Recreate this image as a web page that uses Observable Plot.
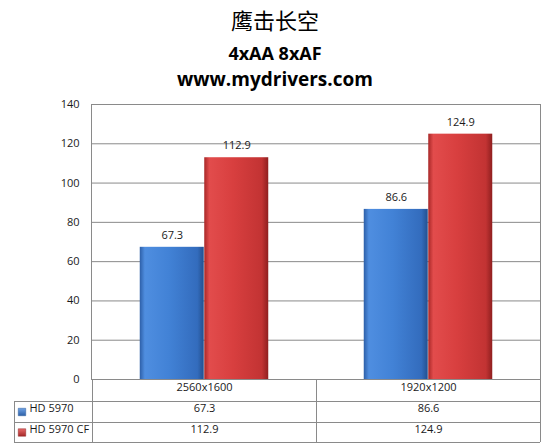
<!DOCTYPE html>
<html><head><meta charset="utf-8">
<script src="https://cdn.jsdelivr.net/npm/d3@7"></script>
<script src="https://cdn.jsdelivr.net/npm/@observablehq/plot@0.6"></script>
<style>
body{margin:0;background:#fff;}
#wrap{position:relative;width:550px;height:446px;overflow:hidden;background:#fff;}
#head{position:relative;height:94px;}
.t{position:absolute;left:0;width:550px;text-align:center;line-height:1;color:#000;white-space:nowrap;}
#chart svg{display:block;}
</style></head><body>
<div id="wrap">
<div id="head">
<div class="t" id="t1" style="top:8px;font-family:'Noto Sans CJK SC';font-size:22px;"></div>
<div class="t" id="t2" style="top:44px;font-family:'Open Sans';font-weight:bold;font-size:18px;"></div>
<div class="t" id="t3" style="top:70px;font-family:'Open Sans';font-weight:bold;font-size:19px;"></div>
</div>
<div id="chart"></div>
</div>
<script>
const titleText = "鹰击长空";
const subtitle1 = "4xAA 8xAF";
const subtitle2 = "www.mydrivers.com";
const categories = ["2560x1600", "1920x1200"];
const seriesNames = ["HD 5970", "HD 5970 CF"];
const hd5970 = [67.3, 86.6];
const hd5970cf = [112.9, 124.9];
const yTicks = [0, 20, 40, 60, 80, 100, 120, 140];

document.getElementById("t1").textContent = titleText;
document.getElementById("t2").textContent = subtitle1;
document.getElementById("t3").textContent = subtitle2;

const rowsA = categories.map((c, i) => ({cat: c, series: seriesNames[0], value: hd5970[i]}));
const rowsB = categories.map((c, i) => ({cat: c, series: seriesNames[1], value: hd5970cf[i]}));

const W = 550, H = 352, mL = 91, mR = 10, mT = 10, mB = 67;
const bandW = (W - mL - mR) / categories.length;
const barW = 64.5;
const nearInset = bandW / 2 - barW;
const farInset = bandW / 2;
const grid = "#8a8a8a";
const fs = 11;

const plot = Plot.plot({
  width: W, height: H,
  marginLeft: mL, marginRight: mR, marginTop: mT, marginBottom: mB,
  style: {fontFamily: "'Open Sans'", fontSize: "11px", color: "#1a1a1a", background: "#fff", overflow: "visible"},
  x: {domain: categories, padding: 0, axis: null},
  y: {domain: [0, 140], axis: null},
  marks: [
    Plot.ruleY(yTicks, {stroke: grid, strokeWidth: 1}),
    Plot.frame({stroke: grid}),
    Plot.axisY({ticks: yTicks, tickSize: 0, tickPadding: 12, label: null, fontSize: fs}),
    Plot.barY(rowsA, {x: "cat", y: "value", fill: "url(#gBlue)", insetLeft: nearInset, insetRight: farInset}),
    Plot.barY(rowsB, {x: "cat", y: "value", fill: "url(#gRed)", insetLeft: farInset, insetRight: nearInset}),
    Plot.text(rowsA, {x: "cat", y: "value", text: d => d.value.toFixed(1), dx: -barW / 2, dy: -12, fontSize: fs}),
    Plot.text(rowsB, {x: "cat", y: "value", text: d => d.value.toFixed(1), dx: barW / 2, dy: -12, fontSize: fs}),
    // data table
    Plot.text(categories, {x: d => d, frameAnchor: "bottom", dy: 11, text: d => d, fontSize: fs}),
    Plot.text(rowsA, {x: "cat", frameAnchor: "bottom", dy: 32.5, text: d => d.value.toFixed(1), fontSize: fs}),
    Plot.text(rowsB, {x: "cat", frameAnchor: "bottom", dy: 53, text: d => d.value.toFixed(1), fontSize: fs}),
    Plot.dot([seriesNames[0]], {frameAnchor: "bottom-left", dx: -69.5, dy: 32.5, symbol: "square", r: 4.2, fill: "url(#gBlueK)", stroke: "#2a5a9a", strokeWidth: 0.5}),
    Plot.dot([seriesNames[1]], {frameAnchor: "bottom-left", dx: -69.5, dy: 53, symbol: "square", r: 4.2, fill: "url(#gRedK)", stroke: "#8e2424", strokeWidth: 0.5}),
    Plot.text([seriesNames[0]], {frameAnchor: "bottom-left", dx: -62, dy: 32.5, text: d => d, textAnchor: "start", fontSize: fs}),
    Plot.text([seriesNames[1]], {frameAnchor: "bottom-left", dx: -62, dy: 53, text: d => d, textAnchor: "start", fontSize: fs})
  ]
});

const svg = d3.select(plot);
const defs = svg.insert("defs", ":first-child");
function grad(id, stops, vertical) {
  const g = defs.append("linearGradient").attr("id", id)
    .attr("x1", 0).attr("y1", 0).attr("x2", vertical ? 0 : 1).attr("y2", vertical ? 1 : 0);
  stops.forEach(([o, c]) => g.append("stop").attr("offset", o).attr("stop-color", c));
}
grad("gBlue", [[0, "#2d5fa8"], [0.08, "#4f8ee0"], [0.45, "#4282d6"], [0.9, "#336cbd"], [1, "#23508f"]]);
grad("gRed", [[0, "#a82828"], [0.08, "#e24c4c"], [0.45, "#d83f3f"], [0.9, "#c23333"], [1, "#8f1f1f"]]);
grad("gBlueK", [[0, "#6fa3e6"], [1, "#2c5fa6"]], true);
grad("gRedK", [[0, "#e86a6a"], [1, "#a52828"]], true);

// table grid drawn from the plot's own scales
const xs = plot.scale("x"), ys = plot.scale("y");
const edges = categories.map(c => xs.apply(c)).concat([xs.apply(categories[categories.length - 1]) + xs.bandwidth]);
const y0 = ys.apply(0);
const rowEdges = [y0 + 22, y0 + 43, y0 + 63];
const tableLeft = 14;
const gl = svg.append("g").attr("stroke", grid).attr("stroke-width", 1).attr("shape-rendering", "crispEdges");
const xEnd = edges[edges.length - 1];
rowEdges.forEach(y => gl.append("line").attr("x1", tableLeft).attr("x2", xEnd).attr("y1", Math.round(y) + 0.5).attr("y2", Math.round(y) + 0.5));
edges.forEach(x => gl.append("line").attr("x1", Math.round(x) + 0.5).attr("x2", Math.round(x) + 0.5).attr("y1", y0).attr("y2", rowEdges[2]));
gl.append("line").attr("x1", tableLeft + 0.5).attr("x2", tableLeft + 0.5).attr("y1", rowEdges[0]).attr("y2", rowEdges[2]);

document.getElementById("chart").appendChild(plot);
</script>
</body></html>
